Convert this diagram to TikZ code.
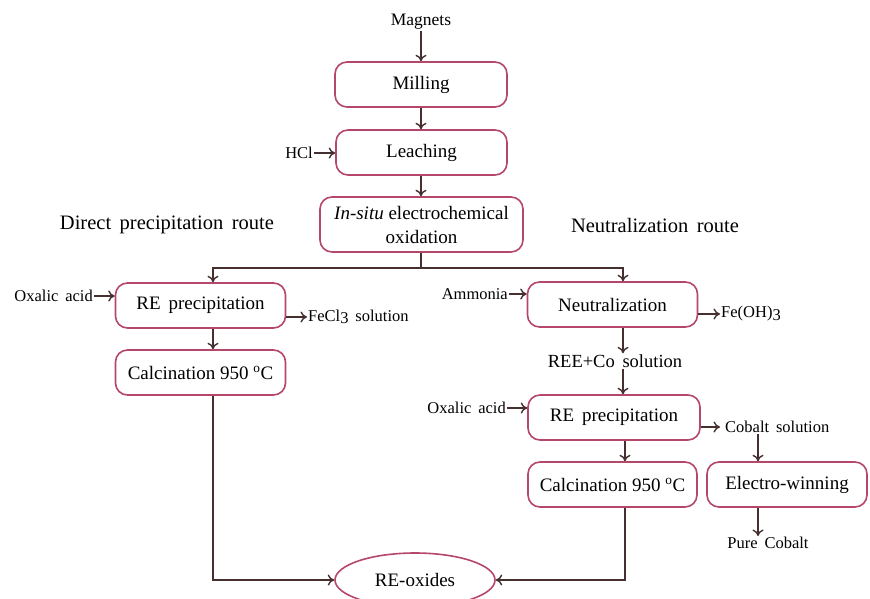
\documentclass[tikz,border=0pt]{standalone}
\usepackage{fontspec}
\setmainfont{Liberation Serif}
\usetikzlibrary{arrows.meta,shapes.geometric}
\definecolor{boxline}{HTML}{B4476A}
\definecolor{flow}{HTML}{45302F}
\tikzset{
  stage/.style={draw=boxline, line width=1.6pt, rounded corners=12pt, fill=white,
    minimum height=45pt, inner sep=2pt, font=\fontsize{19}{22}\selectfont, align=center},
  product/.style={draw=boxline, line width=1.6pt, ellipse, fill=white,
    minimum width=160pt, minimum height=54pt, inner sep=0pt, font=\fontsize{19}{22}\selectfont},
  lbl/.style={inner sep=1pt, font=\fontsize{16.5}{19}\selectfont},
  route/.style={inner sep=1pt, font=\fontsize{20.5}{24}\selectfont},
  arr/.style={draw=flow, line width=1.4pt, -{To[length=6.5pt,width=11pt]}},
  link/.style={draw=flow, line width=1.4pt}
}
\begin{document}
\begin{tikzpicture}[x=1pt,y=-1pt]
\clip (0,0) rectangle (870,598);
\fill[white] (0,0) rectangle (870,598);

% main trunk
\node[lbl, font=\fontsize{17.5}{20}\selectfont] (mag) at (421,22) {Magnets};
\node[stage, minimum width=172pt] (mill) at (421,84.5) {Milling};
\node[stage, minimum width=171pt] (leach) at (421.5,152.5) {Leaching};
\node[stage, minimum width=203pt, minimum height=55pt, inner sep=1pt,
  font=\fontsize{19}{24}\selectfont] (ox) at (421.5,224.5) {\textit{In-situ} electrochemical\\oxidation};
\node[lbl, anchor=east] (hcl) at (314,153) {HCl};

\draw[arr] (mag.south) -- (mag.south |- mill.north);
\draw[arr] (mill.south -| mag.south) -- (leach.north -| mag.south);
\draw[arr] (leach.south -| mag.south) -- (ox.north -| mag.south);
\draw[arr] (hcl.east) -- (hcl.east -| leach.west);

% route titles
\node[route] (t1) at (167,225) {Direct\, precipitation\, route};
\node[route] (t2) at (655,225) {Neutralization\, route};

% direct precipitation route
\node[stage, minimum width=170pt] (repL) at (200.5,305.5) {RE\, precipitation};
\node[stage, minimum width=170pt] (calL) at (200.5,372.5) {Calcination 950 \textsuperscript{o}C};
\node[lbl, anchor=east] (oxaL) at (94,296) {Oxalic\, acid};
\node[lbl, anchor=west] (fecl) at (307,317) {FeCl\raisebox{-0.3ex}{3}\, solution};

% neutralization route
\node[stage, minimum width=170pt] (neut) at (612.5,304.5) {Neutralization};
\node[lbl, anchor=east] (amm) at (509,294) {Ammonia};
\node[lbl, anchor=west] (feoh) at (720,314) {Fe(OH)\raisebox{-0.3ex}{3}};
\node[lbl, font=\fontsize{18.5}{21}\selectfont] (ree) at (615,361) {REE+Co\, solution};
\node[stage, minimum width=172pt] (repR) at (614,417.5) {RE\, precipitation};
\node[lbl, anchor=east] (oxaR) at (507,408) {Oxalic\, acid};
\node[stage, minimum width=169pt] (calR) at (612.5,484.5) {Calcination 950 \textsuperscript{o}C};
\node[lbl, anchor=west] (cosol) at (724,427) {Cobalt\, solution};
\node[stage, minimum width=160pt] (ew) at (787,484.5) {Electro-winning};
\node[lbl] (pure) at (768,543) {Pure\, Cobalt};

% product
\node[product] (reo) at (415,580) {RE-oxides};

% split below the oxidation stage
\coordinate (split) at (421,268);
\draw[link] (ox.south -| split) -- (split);
\draw[arr] (split) -| ([xshift=12.5pt]repL.north);
\draw[arr] (split) -| ([xshift=10.5pt]neut.north);

% direct route connectors
\draw[arr] (oxaL.east) -- (oxaL.east -| repL.west);
\draw[arr] (fecl.west -| repL.east) -- (fecl.west);
\draw[arr] ([xshift=12.5pt]repL.south) -- ([xshift=12.5pt]calL.north);
\draw[arr] ([xshift=12.5pt]calL.south) |- (reo.west);

% neutralization route connectors
\draw[arr] (amm.east) -- (amm.east -| neut.west);
\draw[arr] (feoh.west -| neut.east) -- (feoh.west);
\draw[arr] ([xshift=10.5pt]neut.south) -- ([xshift=10.5pt]neut.south |- ree.north);
\draw[arr] ([xshift=10.5pt]neut.south |- ree.south) -- ([xshift=10.5pt]neut.south |- repR.north);
\draw[arr] (oxaR.east) -- (oxaR.east -| repR.west);
\draw[arr] (cosol.west -| repR.east) -- ([xshift=-4pt]cosol.west);
\draw[arr] ([xshift=12.5pt]calR.north |- repR.south) -- ([xshift=12.5pt]calR.north);
\draw[arr] ([xshift=12.5pt]calR.south) |- (reo.east);
\draw[arr] (cosol.south -| 758,0) -- (ew.north -| 758,0);
\draw[arr] (ew.south -| 758,0) -- (pure.north -| 758,0);
\end{tikzpicture}
\end{document}
